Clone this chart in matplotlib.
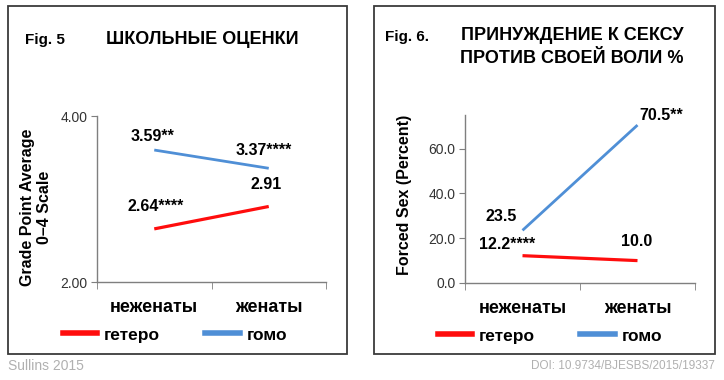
import matplotlib.pyplot as plt
from matplotlib.patches import Rectangle
from matplotlib.lines import Line2D

plt.rcParams['font.family'] = ['Liberation Sans', 'DejaVu Sans']

# ---------- data ----------
categories = ["неженаты", "женаты"]
series_names = ["гетеро", "гомо"]

gpa_hetero = [2.64, 2.91]
gpa_homo = [3.59, 3.37]
gpa_hetero_labels = ["2.64****", "2.91"]
gpa_homo_labels = ["3.59**", "3.37****"]

sex_hetero = [12.2, 10.0]
sex_homo = [23.5, 70.5]
sex_hetero_labels = ["12.2****", "10.0"]
sex_homo_labels = ["23.5", "70.5**"]

gpa_ticks = [2.0, 4.0]
sex_ticks = [0, 20, 40, 60]

RED = "#ff0d0d"
BLUE = "#4f8fd6"
W, H = 724, 380


def px(x, y):
    # pixel coords (top-left origin) -> figure fraction
    return x / W, 1 - y / H


fig = plt.figure(figsize=(7.24, 3.80), dpi=100)

# panel borders
for x0, y0, x1, y1 in [(8, 6, 347, 354), (374, 6, 715, 354)]:
    fig.patches.append(Rectangle(px(x0, y1), (x1 - x0) / W, (y1 - y0) / H,
                                 transform=fig.transFigure, fill=False,
                                 edgecolor="#3a3a3a", linewidth=1.3))


def style_axes(ax, ticks, fmt):
    x = [0.5, 1.5]
    ax.set_xlim(0, 2)
    for s in ["top", "right"]:
        ax.spines[s].set_visible(False)
    for s in ["left", "bottom"]:
        ax.spines[s].set_color("#7f7f7f")
        ax.spines[s].set_linewidth(1.0)
    ax.set_xticks(x)
    ax.set_xticklabels(categories, fontsize=13, fontweight="bold")
    ax.set_xticks([0, 1, 2], minor=True)
    ax.tick_params(axis="x", which="major", length=0, pad=12)
    ax.tick_params(axis="x", which="minor", length=5, color="#7f7f7f", direction="out")
    ax.set_yticks(ticks)
    ax.set_yticklabels([fmt.format(t) for t in ticks], fontsize=10, color="#333333")
    ax.tick_params(axis="y", length=4, color="#7f7f7f", pad=3)
    return x


def annotate(ax, x, vals, labels, offsets):
    for xi, v, lab, off in zip(x, vals, labels, offsets):
        ax.annotate(lab, (xi, v), xytext=off, textcoords="offset points",
                    ha="center", va="center", fontsize=11.5, fontweight="bold")


# ---------- Fig 5 ----------
ax1 = fig.add_axes([97 / W, 1 - 282 / H, 229 / W, 166 / H])
x = style_axes(ax1, gpa_ticks, "{:.2f}")
ax1.set_ylim(2, 4)
ax1.plot(x, gpa_hetero, color=RED, lw=2.3, solid_capstyle="butt")
ax1.plot(x, gpa_homo, color=BLUE, lw=2.0, solid_capstyle="butt")
annotate(ax1, x, gpa_homo, gpa_homo_labels, [(-1.5, 9.5), (-3.5, 13)])
annotate(ax1, x, gpa_hetero, gpa_hetero_labels, [(1, 16), (-2, 16)])

fig.text(*px(25, 40), "Fig. 5", fontsize=11, fontweight="bold", va="center")
fig.text(*px(202, 40), "ШКОЛЬНЫЕ ОЦЕНКИ", fontsize=13, fontweight="bold",
         ha="center", va="center")
fig.text(*px(36, 207), "Grade Point Average\n0–4 Scale", rotation=90,
         fontsize=11.5, fontweight="bold", ha="center", va="center",
         multialignment="center", linespacing=1.2)

handles = [Line2D([], [], color=RED, lw=4), Line2D([], [], color=BLUE, lw=4)]
leg_kw = dict(ncol=2, loc="center", frameon=False, handlelength=2.0,
              handletextpad=0.4, columnspacing=2.6,
              prop={"size": 12.5, "weight": "bold"},
              bbox_transform=fig.transFigure)
ax1.legend(handles, series_names, bbox_to_anchor=px(175, 335), **leg_kw)

fig.text(*px(8, 366), "Sullins 2015", fontsize=10, color="#b0b0b0", va="center")

# ---------- Fig 6 ----------
ax2 = fig.add_axes([465 / W, 1 - 283 / H, 230 / W, 168 / H])
x = style_axes(ax2, sex_ticks, "{:.1f}")
ax2.set_ylim(0, 75)
ax2.plot(x, sex_hetero, color=RED, lw=2.3, solid_capstyle="butt")
ax2.plot(x, sex_homo, color=BLUE, lw=2.0, solid_capstyle="butt")
annotate(ax2, x, sex_homo, sex_homo_labels, [(-15, 10), (17, 7)])
annotate(ax2, x, sex_hetero, sex_hetero_labels, [(-11, 8), (-0.7, 13.4)])

fig.text(*px(385, 37), "Fig. 6.", fontsize=11, fontweight="bold", va="center")
fig.text(*px(572, 47), "ПРИНУЖДЕНИЕ К СЕКСУ\nПРОТИВ СВОЕЙ ВОЛИ %", fontsize=13,
         fontweight="bold", ha="center", va="center", linespacing=1.4)
fig.text(*px(405, 195), "Forced Sex (Percent)", rotation=90, fontsize=11.5,
         fontweight="bold", ha="center", va="center")

ax2.legend(handles, series_names, bbox_to_anchor=px(550, 336), **leg_kw)

fig.text(*px(715, 366), "DOI: 10.9734/BJESBS/2015/19337", fontsize=8.5,
         color="#b0b0b0", ha="right", va="center")

fig.savefig("out.png", dpi=100)
